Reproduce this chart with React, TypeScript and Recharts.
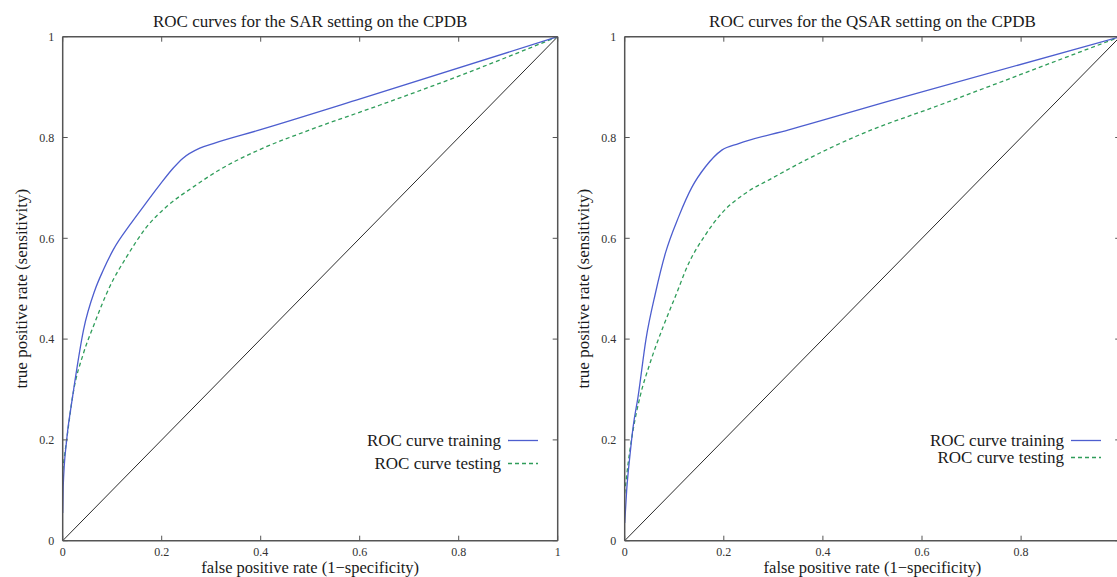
import React from 'react';
import { LineChart, Line, XAxis, YAxis, Legend, Label } from 'recharts';

const FONT = '"Liberation Serif", "Times New Roman", serif';

// Tick values shared by both panels
const axisTicks = [0, 0.2, 0.4, 0.6, 0.8, 1];

// Titles & labels
const titles = ['ROC curves for the SAR setting on the CPDB', 'ROC curves for the QSAR setting on the CPDB'];
const xLabel = 'false positive rate (1\u2212specificity)';
const yLabel = 'true positive rate (sensitivity)';
const seriesNames = ['ROC curve training', 'ROC curve testing'];

// SAR panel
const sarTrainFpr = [0, 0.001, 0.008, 0.018, 0.025, 0.042, 0.065, 0.082, 0.102, 0.136, 0.163, 0.196, 0.223, 0.243, 0.277, 0.304, 0.398, 0.593, 1];
const sarTrainTpr = [0.055, 0.107, 0.2, 0.273, 0.319, 0.418, 0.497, 0.537, 0.577, 0.627, 0.663, 0.706, 0.739, 0.759, 0.779, 0.788, 0.815, 0.874, 1];
const sarTestFpr = [0, 0.008, 0.021, 0.042, 0.063, 0.095, 0.129, 0.17, 0.21, 0.264, 0.317, 0.398, 0.499, 0.64, 0.795, 1];
const sarTestTpr = [0.14, 0.2, 0.292, 0.372, 0.428, 0.504, 0.563, 0.623, 0.663, 0.702, 0.736, 0.776, 0.815, 0.864, 0.92, 1];

// QSAR panel
const qsarTrainFpr = [0, 0.004, 0.011, 0.017, 0.027, 0.043, 0.062, 0.082, 0.109, 0.136, 0.163, 0.196, 0.23, 0.331, 0.533, 1];
const qsarTrainTpr = [0.035, 0.1, 0.173, 0.226, 0.286, 0.4, 0.491, 0.57, 0.643, 0.702, 0.742, 0.775, 0.788, 0.815, 0.872, 1];
const qsarTestFpr = [0, 0.007, 0.017, 0.031, 0.051, 0.079, 0.102, 0.129, 0.163, 0.196, 0.243, 0.297, 0.365, 0.466, 0.64, 1];
const qsarTestTpr = [0.094, 0.154, 0.22, 0.286, 0.352, 0.428, 0.484, 0.55, 0.607, 0.65, 0.689, 0.719, 0.755, 0.802, 0.866, 1];

// Chance diagonal
const diagFpr = [0, 1];
const diagTpr = [0, 1];

const zip = (xs: number[], ys: number[]) => xs.map((x, i) => ({ fpr: x, tpr: ys[i] }));

const TRAIN_COLOR = '#4d5ecf';
const TEST_COLOR = '#2f9d5a';
const DASH = '4 3';
const FRAME = '#555';

type PanelProps = {
  title: string;
  train: { fpr: number; tpr: number }[];
  test: { fpr: number; tpr: number }[];
  left: number;
  width: number;
  margin: { top: number; right: number; bottom: number; left: number };
  rowH: number;
  legendLeft: number;
  legendTop: number;
  hideLastX?: boolean;
};

const tickStyle = { fontFamily: FONT, fontSize: 12, fill: '#333' };

const makeLegend = (rowH: number) => (props: any) => {
  const payload = (props.payload || [])
    .filter((p: any) => seriesNames.includes(p.value))
    .sort((a: any, b: any) => seriesNames.indexOf(a.value) - seriesNames.indexOf(b.value));
  return (
    <div style={{ width: 200 }}>
      {payload.map((entry: any) => {
        const dashed = entry.value === seriesNames[1];
        return (
          <div
            key={entry.value}
            style={{ display: 'flex', justifyContent: 'flex-end', alignItems: 'center', height: rowH, whiteSpace: 'nowrap' }}
          >
            <span style={{ fontFamily: FONT, fontSize: 17, color: '#1a1a1a', lineHeight: `${rowH}px` }}>{entry.value}</span>
            <svg width={37} height={rowH} style={{ display: 'block' }}>
              <line
                x1={7}
                x2={37}
                y1={rowH / 2}
                y2={rowH / 2}
                stroke={entry.color}
                strokeWidth={1.3}
                strokeDasharray={dashed ? DASH : undefined}
              />
            </svg>
          </div>
        );
      })}
    </div>
  );
};

const RocPanel = ({ title, train, test, left, width, margin, rowH, legendLeft, legendTop, hideLastX }: PanelProps) => (
  <div style={{ position: 'absolute', left, top: 0 }}>
    <LineChart width={width} height={577} margin={margin}>
      <XAxis
        xAxisId="b"
        type="number"
        dataKey="fpr"
        domain={[0, 1]}
        ticks={axisTicks}
        interval={0}
        allowDataOverflow
        height={1}
        tickSize={-5}
        tickMargin={11.5}
        tick={tickStyle}
        tickLine={{ stroke: FRAME }}
        axisLine={{ stroke: FRAME, strokeWidth: 1.5 }}
        tickFormatter={(v: number) => (hideLastX && v === 1 ? '' : String(v))}
      >
        <Label
          content={(p: any) => {
            const vb = p.viewBox || {};
            return (
              <text x={vb.x + vb.width / 2} y={573} textAnchor="middle" fontFamily={FONT} fontSize={16.5} fill="#1a1a1a">
                {xLabel}
              </text>
            );
          }}
        />
      </XAxis>
      <XAxis
        xAxisId="t"
        orientation="top"
        type="number"
        dataKey="fpr"
        domain={[0, 1]}
        ticks={axisTicks}
        interval={0}
        allowDataOverflow
        height={1}
        tickSize={-5}
        tickFormatter={() => ''}
        tickLine={{ stroke: FRAME }}
        axisLine={{ stroke: FRAME, strokeWidth: 1.5 }}
      >
        <Label
          content={(p: any) => {
            const vb = p.viewBox || {};
            return (
              <text x={vb.x + vb.width / 2} y={26.5} textAnchor="middle" fontFamily={FONT} fontSize={17} fill="#1a1a1a">
                {title}
              </text>
            );
          }}
        />
      </XAxis>
      <YAxis
        yAxisId="l"
        type="number"
        domain={[0, 1]}
        ticks={axisTicks}
        interval={0}
        allowDataOverflow
        width={1}
        tickSize={-5}
        tickMargin={13.4}
        tick={tickStyle}
        tickLine={{ stroke: FRAME }}
        axisLine={{ stroke: FRAME, strokeWidth: 1.5 }}
        tickFormatter={(v: number) => String(v)}
      >
        <Label
          content={(p: any) => {
            const vb = p.viewBox || {};
            const cx = vb.x + vb.width - 36;
            const cy = vb.y + vb.height / 2;
            return (
              <text
                x={cx}
                y={cy}
                transform={`rotate(-90, ${cx}, ${cy})`}
                textAnchor="middle"
                fontFamily={FONT}
                fontSize={17}
                fill="#1a1a1a"
              >
                {yLabel}
              </text>
            );
          }}
        />
      </YAxis>
      <YAxis
        yAxisId="r"
        orientation="right"
        type="number"
        domain={[0, 1]}
        ticks={axisTicks}
        interval={0}
        allowDataOverflow
        width={1}
        tickSize={-5}
        tickFormatter={() => ''}
        tickLine={{ stroke: FRAME }}
        axisLine={{ stroke: FRAME, strokeWidth: 1.5 }}
      />
      <Legend
        layout="vertical"
        align="center"
        verticalAlign="middle"
        width={200}
        wrapperStyle={{ left: legendLeft, top: legendTop, width: 200 }}
        content={makeLegend(rowH)}
      />
      <Line
        xAxisId="b"
        yAxisId="l"
        data={zip(diagFpr, diagTpr)}
        dataKey="tpr"
        name="chance"
        legendType="none"
        stroke="#2a2a2a"
        strokeWidth={1}
        dot={false}
        activeDot={false}
        isAnimationActive={false}
      />
      <Line
        xAxisId="b"
        yAxisId="l"
        data={test}
        dataKey="tpr"
        name={seriesNames[1]}
        type="monotone"
        stroke={TEST_COLOR}
        strokeWidth={1.3}
        strokeDasharray={DASH}
        dot={false}
        activeDot={false}
        isAnimationActive={false}
      />
      <Line
        xAxisId="b"
        yAxisId="l"
        data={train}
        dataKey="tpr"
        name={seriesNames[0]}
        type="monotone"
        stroke={TRAIN_COLOR}
        strokeWidth={1.3}
        dot={false}
        activeDot={false}
        isAnimationActive={false}
      />
    </LineChart>
  </div>
);

export default function App() {
  return (
    <div style={{ position: 'absolute', left: 0, top: 0, width: 1117, height: 577, overflow: 'hidden', background: '#fff' }}>
      <RocPanel
        title={titles[0]}
        train={zip(sarTrainFpr, sarTrainTpr)}
        test={zip(sarTestFpr, sarTestTpr)}
        left={0}
        width={570}
        margin={{ top: 35.7, right: 11.3, bottom: 35.3, left: 61.7 }}
        rowH={23}
        legendLeft={338}
        legendTop={428.5}
      />
      <RocPanel
        title={titles[1]}
        train={zip(qsarTrainFpr, qsarTrainTpr)}
        test={zip(qsarTestFpr, qsarTestTpr)}
        left={565}
        width={575}
        margin={{ top: 35.7, right: 18.8, bottom: 35.3, left: 58.7 }}
        rowH={17}
        legendLeft={336}
        legendTop={431.5}
        hideLastX
      />
    </div>
  );
}
